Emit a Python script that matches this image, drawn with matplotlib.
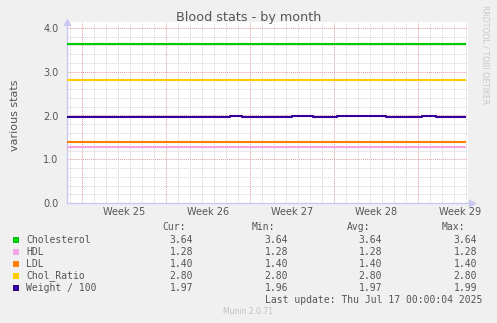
import matplotlib
matplotlib.use("Agg")
from matplotlib import pyplot as plt
import numpy as np

W, H = 497, 323

series_names = ["Cholesterol", "HDL", "LDL", "Chol_Ratio", "Weight / 100"]
series_colors = ["#00cc00", "#f4a6e3", "#ff8000", "#ffcc00", "#330099"]

# days counted from the left edge of the graph
flat_days = [0.0, 33.25]
cholesterol = [3.64, 3.64]
hdl = [1.28, 1.28]
ldl = [1.40, 1.40]
chol_ratio = [2.80, 2.80]

weight_days = [0.0, 13.6, 14.6, 18.7, 20.5, 22.5, 26.6, 29.6, 30.75, 33.25]
weight = [1.96, 1.98, 1.96, 1.98, 1.96, 1.99, 1.96, 1.98, 1.96, 1.96]

week_starts = [1.25, 8.25, 15.25, 22.25, 29.25]
week_labels = ["Week 25", "Week 26", "Week 27", "Week 28", "Week 29"]

cur_vals = [3.64, 1.28, 1.40, 2.80, 1.97]
min_vals = [3.64, 1.28, 1.40, 2.80, 1.96]
avg_vals = [3.64, 1.28, 1.40, 2.80, 1.97]
max_vals = [3.64, 1.28, 1.40, 2.80, 1.99]

text_col = "#555555"
axis_col = "#c8c8f0"


def px(x, y):
    # pixel position -> figure fraction
    return x / W, 1 - y / H


fig = plt.figure(figsize=(W / 100, H / 100), dpi=100, facecolor="#f0f0f0")
left, right, top, bottom = 67, 468, 22, 203
ax = fig.add_axes([left / W, 1 - bottom / H, (right - left) / W, (bottom - top) / H])
ax.set_facecolor("white")

xmax = 33.4
ax.set_xlim(0, xmax)
ax.set_ylim(0, 4.0 + 6 / 43.75)

# grid
ax.set_yticks(np.arange(0, 4.01, 1.0))
ax.set_yticks(np.arange(0, 4.01, 0.2), minor=True)
ax.set_yticklabels([f"{v:.1f}" for v in np.arange(0, 4.01, 1.0)])
ax.set_xticks(week_starts)
ax.set_xticks(np.arange(0.25, xmax, 1.0), minor=True)
ax.set_xticklabels([])
ax.grid(which="minor", color="#d4d4d4", linestyle=(0, (1, 1)), linewidth=0.7)
ax.grid(which="major", color="#e09a9a", linestyle=(0, (1, 1)), linewidth=0.7)
ax.set_axisbelow(True)
ax.tick_params(which="both", length=0)
ax.tick_params(axis="y", colors=text_col, labelsize=7, pad=6)

for s in ax.spines.values():
    s.set_visible(False)

# axis lines with arrows
ax.plot([0, 0], [0, 1.0], transform=ax.transAxes, color=axis_col, lw=1, clip_on=False)
ax.plot([0, 1.01], [0, 0], transform=ax.transAxes, color=axis_col, lw=1, clip_on=False)
ax.plot([0], [1.0], transform=ax.transAxes, marker="^", ms=4, color=axis_col, clip_on=False)
ax.plot([1.01], [0], transform=ax.transAxes, marker=">", ms=4, color=axis_col, clip_on=False)

# week labels centred mid-week
for d, lab in zip(week_starts, week_labels):
    ax.text(d + 3.5, -0.05, lab, transform=ax.get_xaxis_transform(),
            ha="center", va="center", fontsize=7, color=text_col)

flat_series = [cholesterol, hdl, ldl, chol_ratio]
for vals, col in zip(flat_series, series_colors[:4]):
    ax.plot(flat_days, vals, color=col, lw=1.5, solid_capstyle="butt")
ax.plot(weight_days, weight, color=series_colors[4], lw=1.5, drawstyle="steps-post",
        solid_capstyle="butt")

fig.text(*px(249, 18), "Blood stats - by month", ha="center", va="center",
         fontsize=9.2, color=text_col)
fig.text(*px(15, 115), "various stats", ha="center", va="center", rotation=90,
         fontsize=8, color=text_col)
fig.text(*px(485, 5), "RRDTOOL / TOBI OETIKER", ha="center", va="top", rotation=270,
         fontsize=5.6, color="#c8c8c8")

# legend table
mono = dict(family="DejaVu Sans Mono", fontsize=7, color=text_col, va="center")
fig.text(*px(186, 227), "Cur:", ha="right", **mono)
fig.text(*px(275, 227), "Min:", ha="right", **mono)
fig.text(*px(370, 227), "Avg:", ha="right", **mono)
fig.text(*px(465, 227), "Max:", ha="right", **mono)

row_y = [240, 252, 264, 276, 288]
for i, y in enumerate(row_y):
    fig.patches.append(plt.Rectangle(px(13, y + 3), 6 / W, 6 / H, transform=fig.transFigure,
                                     facecolor=series_colors[i], edgecolor="none"))
    fig.text(*px(26, y), series_names[i], ha="left", **mono)
    fig.text(*px(193, y), f"{cur_vals[i]:.2f}", ha="right", **mono)
    fig.text(*px(288, y), f"{min_vals[i]:.2f}", ha="right", **mono)
    fig.text(*px(382, y), f"{avg_vals[i]:.2f}", ha="right", **mono)
    fig.text(*px(477, y), f"{max_vals[i]:.2f}", ha="right", **mono)

fig.text(*px(482, 300), "Last update: Thu Jul 17 00:00:04 2025", ha="right", **mono)
fig.text(*px(248, 311), "Munin 2.0.71", ha="center", va="center", fontsize=5.5,
         color="#c0c0c0")

fig.savefig("out.png", dpi=100, facecolor=fig.get_facecolor())
